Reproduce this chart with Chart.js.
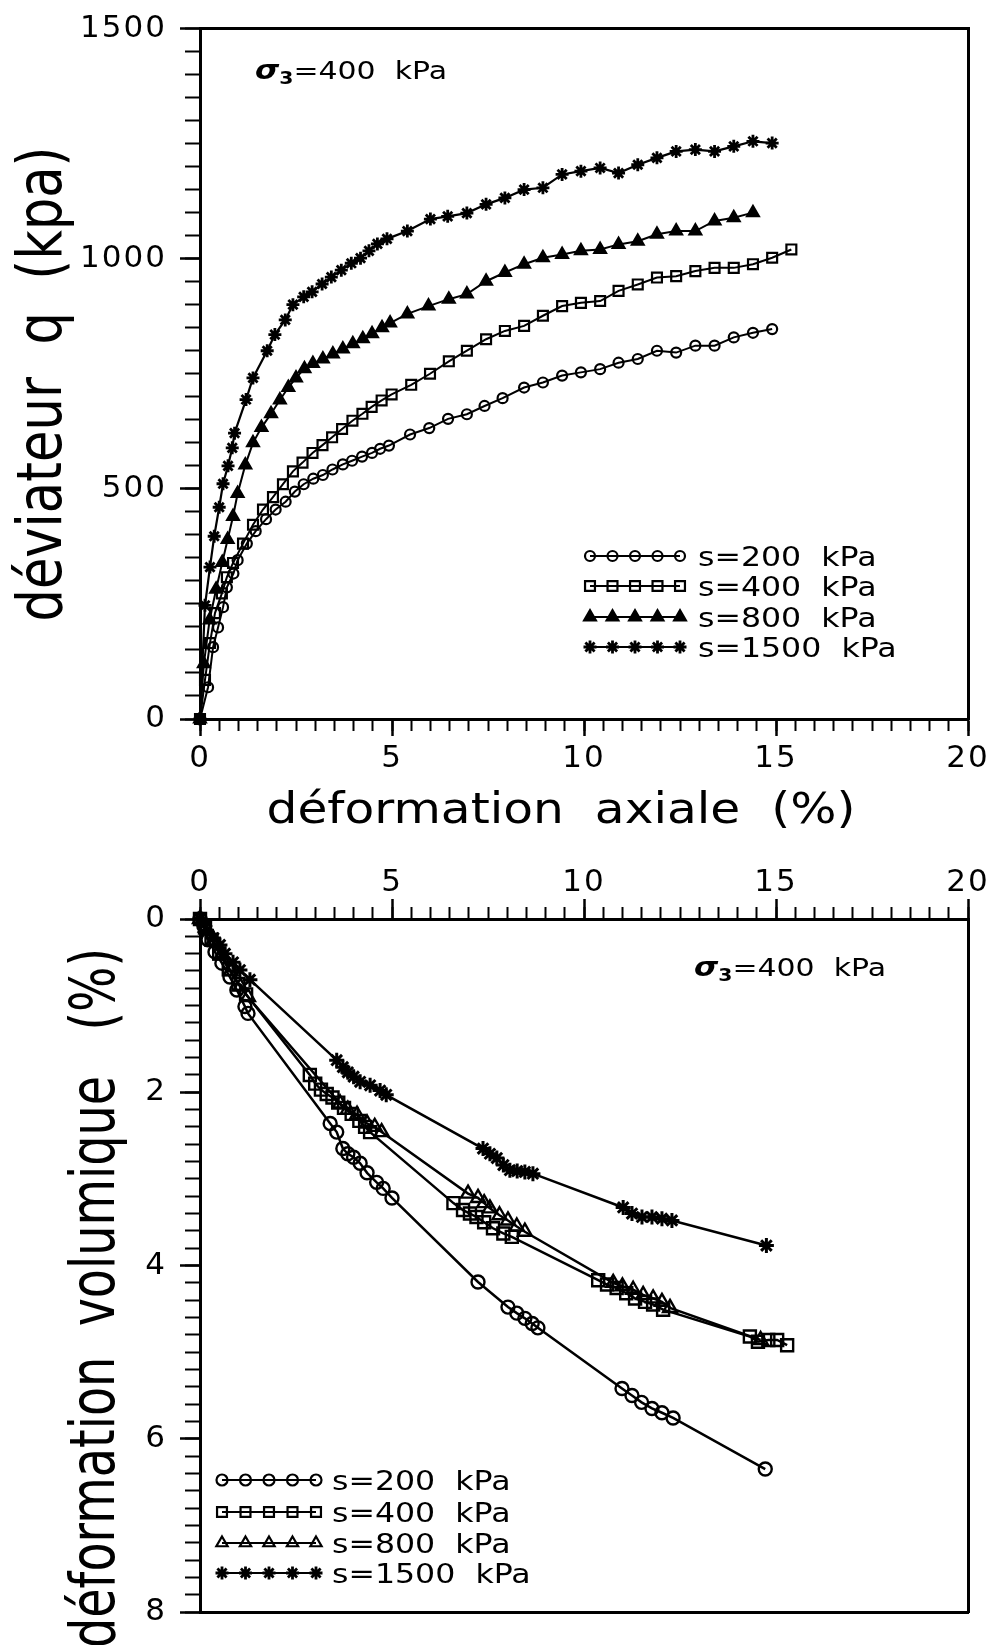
<!DOCTYPE html>
<html><head><meta charset="utf-8">
<script src="https://cdn.jsdelivr.net/npm/chart.js@4/dist/chart.umd.min.js"></script>
<style>
html,body{margin:0;padding:0;background:#fff;}
body{width:998px;height:1645px;position:relative;overflow:hidden;}
canvas{position:absolute;left:0;}
#c1{top:0;} #c2{top:840px;}
</style></head><body>
<canvas id="c1" width="998" height="840"></canvas>
<canvas id="c2" width="998" height="805"></canvas>
<script>
const FONT = "'DejaVu Sans', sans-serif";

// ---- Series labels ----
const seriesLabels = ['s=200  kPa', 's=400  kPa', 's=800  kPa', 's=1500  kPa'];

// ---- Top chart: déviateur q (kPa) vs déformation axiale (%) ----
const q200_x = [0,0.21,0.34,0.47,0.6,0.7,0.87,0.98,1.22,1.45,1.72,1.97,2.23,2.47,2.7,2.95,3.2,3.45,3.72,3.96,4.22,4.48,4.69,4.92,5.47,5.97,6.46,6.95,7.41,7.88,8.44,8.93,9.43,9.92,10.42,10.9,11.4,11.9,12.4,12.9,13.4,13.9,14.4,14.9];
const q200_y = [0,69,156,199,243,286,316,345,381,408,434,455,472,494,510,522,530,542,553,561,570,578,587,594,618,632,652,662,680,697,720,731,746,753,760,774,782,800,796,811,811,829,839,847];

const q400_x = [0,0.13,0.26,0.39,0.57,0.7,0.86,1.12,1.38,1.64,1.9,2.16,2.42,2.67,2.93,3.19,3.44,3.7,3.97,4.23,4.47,4.73,4.99,5.5,5.99,6.48,6.95,7.45,7.94,8.44,8.93,9.43,9.92,10.42,10.9,11.4,11.9,12.4,12.9,13.4,13.9,14.4,14.9,15.4];
const q400_y = [0,85,165,230,273,308,339,381,422,455,482,510,538,557,578,595,612,630,648,663,678,692,705,726,750,777,800,825,843,854,876,897,904,908,930,944,959,962,973,980,980,988,1002,1020];

const q800_x = [0,0.1,0.25,0.42,0.58,0.72,0.86,0.98,1.18,1.38,1.6,1.85,2.08,2.3,2.5,2.72,2.94,3.2,3.46,3.72,3.98,4.24,4.48,4.74,4.95,5.4,5.95,6.48,6.95,7.45,7.94,8.44,8.93,9.43,9.92,10.42,10.9,11.4,11.9,12.4,12.9,13.4,13.9,14.4];
const q800_y = [0,120,215,282,340,390,440,490,552,600,633,663,693,720,741,761,772,782,793,804,815,826,837,850,860,880,897,912,923,951,970,988,1002,1009,1017,1020,1031,1038,1053,1060,1060,1082,1089,1100];

const q1500_x = [0,0.13,0.26,0.37,0.5,0.6,0.73,0.84,0.9,1.2,1.38,1.75,1.95,2.22,2.42,2.7,2.92,3.18,3.42,3.68,3.94,4.18,4.4,4.62,4.87,5.4,6.0,6.45,6.95,7.45,7.94,8.44,8.93,9.43,9.92,10.42,10.9,11.4,11.9,12.4,12.9,13.4,13.9,14.4,14.9];
const q1500_y = [0,247,330,397,460,511,550,589,621,694,741,800,835,867,900,917,928,945,960,975,990,1001,1017,1032,1043,1060,1086,1092,1099,1118,1132,1150,1154,1183,1190,1197,1186,1204,1219,1233,1237,1233,1244,1255,1251];

// ---- Bottom chart: déformation volumique (%) vs déformation axiale (%) ----
const vol200_x = [0,0.1,0.21,0.39,0.57,0.78,0.96,1.17,1.25,3.39,3.56,3.72,3.85,4.0,4.17,4.35,4.6,4.77,5.0,7.24,8.02,8.25,8.46,8.65,8.8,10.99,11.25,11.5,11.77,12.03,12.32,14.72];
const vol200_y = [0,0.08,0.24,0.38,0.51,0.67,0.82,1.01,1.09,2.36,2.46,2.65,2.71,2.75,2.82,2.93,3.04,3.11,3.22,4.19,4.48,4.55,4.61,4.67,4.72,5.42,5.5,5.58,5.65,5.7,5.76,6.35];

const vol400_x = [0,0.13,0.3,0.5,0.75,1.0,1.2,2.86,3.0,3.15,3.3,3.45,3.6,3.75,3.95,4.15,4.3,4.43,6.6,6.85,7.03,7.2,7.4,7.63,7.9,8.12,10.37,10.6,10.85,11.1,11.33,11.59,11.8,12.06,14.32,14.53,14.8,15.03,15.29];
const vol400_y = [0,0.1,0.24,0.4,0.58,0.75,0.87,1.8,1.9,1.97,2.02,2.06,2.12,2.18,2.25,2.33,2.4,2.46,3.28,3.36,3.4,3.44,3.5,3.57,3.63,3.67,4.17,4.22,4.26,4.32,4.38,4.42,4.45,4.51,4.82,4.88,4.86,4.86,4.92];

const vol800_x = [0,0.15,0.35,0.55,0.8,1.05,1.25,3.65,3.85,4.09,4.35,4.55,4.73,6.98,7.24,7.4,7.55,7.8,8.02,8.25,8.46,10.76,11.0,11.28,11.54,11.8,12.03,12.24,14.6];
const vol800_y = [0,0.1,0.25,0.42,0.6,0.78,0.9,2.13,2.2,2.26,2.36,2.4,2.46,3.17,3.22,3.28,3.34,3.42,3.48,3.55,3.61,4.2,4.24,4.28,4.34,4.38,4.42,4.49,4.86];

const vol1500_x = [0,0.17,0.35,0.52,0.65,0.86,1.04,1.3,3.56,3.72,3.85,4.0,4.17,4.43,4.69,4.85,7.37,7.55,7.73,7.9,8.07,8.26,8.46,8.67,11.02,11.25,11.51,11.77,12.03,12.29,14.75];
const vol1500_y = [0,0.13,0.22,0.3,0.4,0.5,0.59,0.7,1.63,1.71,1.77,1.82,1.88,1.92,1.98,2.03,2.65,2.71,2.76,2.84,2.9,2.91,2.92,2.94,3.33,3.4,3.44,3.44,3.46,3.48,3.77];

// ---- Axis ranges / tick steps ----
const axialRange = [0, 20], axialMajor = 5, axialMinor = 0.5;
const qRange = [0, 1500], qMajor = 500, qMinor = 50;
const volRange = [0, 8], volMajor = 2, volMinor = 0.2;

// ---- Texts ----
const topYTitle = 'déviateur  q  (kpa)';
const topXTitle = 'déformation  axiale  (%)';
const botYTitle = 'déformation  volumique   (%)';

const BLACK = '#000';

function ds(label, xs, ys, style, radius, filled, lw, pbw) {
  return {
    label, data: xs.map((x, i) => ({x, y: ys[i]})),
    showLine: true, borderColor: BLACK, borderWidth: lw, tension: 0,
    pointStyle: style, pointRadius: radius, pointHoverRadius: radius,
    pointBorderColor: BLACK, pointBorderWidth: pbw,
    pointBackgroundColor: filled ? BLACK : 'rgba(0,0,0,0)',
    xAxisID: 'x', yAxisID: 'y', clip: false
  };
}

function drawText(ctx, text, x, y, o) {
  ctx.save();
  ctx.letterSpacing = '0px';
  ctx.font = o.font;
  ctx.fillStyle = BLACK;
  ctx.textAlign = o.align || 'left';
  ctx.textBaseline = o.baseline || 'alphabetic';
  const w = ctx.measureText(text).width;
  const sx = o.width ? o.width / w : (o.sx || 1);
  ctx.translate(x, y);
  if (o.rotate) ctx.rotate(o.rotate);
  ctx.scale(sx, 1);
  ctx.fillText(text, 0, 0);
  ctx.restore();
}

function drawSigma(ctx, x, baseY, targetW) {
  const runs = [
    {t: 'σ', font: `italic bold 26px ${FONT}`, dy: 0},
    {t: '3', font: `bold 17px ${FONT}`, dy: 5},
    {t: '=400  kPa', font: `25px ${FONT}`, dy: 0}
  ];
  ctx.save();
  ctx.letterSpacing = '0px';
  let total = 0;
  runs.forEach(r => { ctx.font = r.font; r.w = ctx.measureText(r.t).width; total += r.w; });
  ctx.translate(x, baseY);
  ctx.scale(targetW / total, 1);
  ctx.fillStyle = BLACK; ctx.textAlign = 'left'; ctx.textBaseline = 'alphabetic';
  let cx = 0;
  runs.forEach(r => { ctx.font = r.font; ctx.fillText(r.t, cx, r.dy); cx += r.w; });
  ctx.restore();
}

function drawMarker(ctx, style, radius, bw, x, y) {
  if (Chart.helpers && Chart.helpers.drawPoint) {
    ctx.lineWidth = bw;
    Chart.helpers.drawPoint(ctx, {pointStyle: style, radius, borderWidth: bw, rotation: 0}, x, y);
  }
}

function drawLegend(ctx, rows, x1, x2, tx, ys, font, sx) {
  rows.forEach((r, i) => {
    const y = ys[i];
    ctx.save();
    ctx.letterSpacing = '0px';
    ctx.strokeStyle = BLACK; ctx.lineWidth = 2;
    ctx.beginPath(); ctx.moveTo(x1, y); ctx.lineTo(x2, y); ctx.stroke();
    ctx.fillStyle = r.filled ? BLACK : 'rgba(0,0,0,0)';
    for (let k = 0; k < 5; k++) {
      drawMarker(ctx, r.style, r.radius, r.bw, x1 + (x2 - x1) * k / 4, y);
    }
    ctx.restore();
    drawText(ctx, r.label, tx, y + 10, {font, sx});
  });
}

const tickFont = {family: FONT, size: 31, lineHeight: 1};
const numFmt = v => String(Math.round(v * 1000) / 1000);

function majorAxis(axis, position, range, step, tickLen, pad, size, extra) {
  return Object.assign({
    type: 'linear', axis, position, weight: 1, min: range[0], max: range[1],
    ticks: {stepSize: step, autoSkip: false, maxRotation: 0, color: BLACK, font: tickFont, padding: pad, callback: numFmt},
    grid: {drawOnChartArea: false, drawTicks: true, tickLength: tickLen, tickWidth: 2.5, tickColor: BLACK, color: BLACK},
    border: {display: true, color: BLACK, width: 3},
    afterFit(s) { if (axis === 'x') s.height = size; else s.width = size; }
  }, extra || {});
}
function minorAxis(axis, position, range, step, tickLen, extra) {
  return Object.assign({
    type: 'linear', axis, position, weight: 0, min: range[0], max: range[1],
    ticks: {stepSize: step, display: false, autoSkip: false},
    grid: {drawOnChartArea: false, drawTicks: true, tickLength: tickLen, tickWidth: 2, tickColor: BLACK, color: BLACK},
    border: {display: false},
    afterFit(s) { if (axis === 'x') s.height = 0; else s.width = 0; }
  }, extra || {});
}
function frameAxis(axis, position, range, extra) {
  return Object.assign({
    type: 'linear', axis, position, weight: 0, min: range[0], max: range[1],
    ticks: {display: false},
    grid: {display: false, drawTicks: false},
    border: {display: true, color: BLACK, width: 3},
    afterFit(s) { if (axis === 'x') s.height = 0; else s.width = 0; }
  }, extra || {});
}

// ---- Top chart ----
const topPlugin = {
  id: 'topText',
  beforeDraw(chart) { chart.ctx.letterSpacing = '2px'; },
  afterDraw(chart) {
    const ctx = chart.ctx;
    ctx.letterSpacing = '0px';
    drawText(ctx, topYTitle, 61, 384, {font: `62px ${FONT}`, align: 'center', rotate: -Math.PI / 2, width: 475});
    drawText(ctx, topXTitle, 561, 823, {font: `43px ${FONT}`, align: 'center', width: 589});
    drawSigma(ctx, 255, 79, 192);
    drawLegend(ctx, [
      {label: seriesLabels[0], style: 'circle', radius: 5, bw: 2.2, filled: false},
      {label: seriesLabels[1], style: 'rect', radius: 7, bw: 2.2, filled: false},
      {label: seriesLabels[2], style: 'triangle', radius: 7, bw: 2, filled: true},
      {label: seriesLabels[3], style: 'star', radius: 6.5, bw: 2.8, filled: false}
    ], 590, 680, 698, [556, 586, 617, 647], `27px ${FONT}`, 1.17);
  }
};

new Chart(document.getElementById('c1'), {
  type: 'scatter',
  data: {datasets: [
    ds(seriesLabels[0], q200_x, q200_y, 'circle', 5, false, 2, 2.2),
    ds(seriesLabels[1], q400_x, q400_y, 'rect', 7, false, 2, 2.2),
    ds(seriesLabels[2], q800_x, q800_y, 'triangle', 7, true, 2, 2),
    ds(seriesLabels[3], q1500_x, q1500_y, 'star', 6.5, false, 2.2, 2.8)
  ]},
  options: {
    responsive: false, animation: false, devicePixelRatio: 1, events: [],
    layout: {padding: {top: 27, right: 30, bottom: 0, left: 0}},
    plugins: {legend: {display: false}, tooltip: {enabled: false}},
    scales: {
      x: majorAxis('x', 'bottom', axialRange, axialMajor, 17, 7, 121),
      xm: minorAxis('x', 'bottom', axialRange, axialMinor, 12),
      xt: frameAxis('x', 'top', axialRange),
      y: majorAxis('y', 'left', qRange, qMajor, 20, 13, 200),
      ym: minorAxis('y', 'left', qRange, qMinor, 15),
      yr: frameAxis('y', 'right', qRange)
    }
  },
  plugins: [topPlugin]
});

// ---- Bottom chart ----
const botPlugin = {
  id: 'botText',
  beforeDraw(chart) { chart.ctx.letterSpacing = '2px'; },
  afterDraw(chart) {
    const ctx = chart.ctx;
    ctx.letterSpacing = '0px';
    drawText(ctx, botYTitle, 114, 458, {font: `62px ${FONT}`, align: 'center', rotate: -Math.PI / 2, width: 700});
    drawSigma(ctx, 694, 136, 192);
    drawLegend(ctx, [
      {label: seriesLabels[0], style: 'circle', radius: 5.5, bw: 2.2, filled: false},
      {label: seriesLabels[1], style: 'rect', radius: 7, bw: 2.2, filled: false},
      {label: seriesLabels[2], style: 'triangle', radius: 6.5, bw: 2.2, filled: false},
      {label: seriesLabels[3], style: 'star', radius: 6.5, bw: 2.8, filled: false}
    ], 222, 316, 332, [640, 672, 703, 733], `27px ${FONT}`, 1.17);
  }
};

new Chart(document.getElementById('c2'), {
  type: 'scatter',
  data: {datasets: [
    ds(seriesLabels[0], vol200_x, vol200_y, 'circle', 6.5, false, 2.5, 2.4),
    ds(seriesLabels[1], vol400_x, vol400_y, 'rect', 8.5, false, 2.5, 2.4),
    ds(seriesLabels[2], vol800_x, vol800_y, 'triangle', 8, false, 2.5, 2.4),
    ds(seriesLabels[3], vol1500_x, vol1500_y, 'star', 7.5, false, 2.5, 3)
  ]},
  options: {
    responsive: false, animation: false, devicePixelRatio: 1, events: [],
    layout: {padding: {top: 0, right: 30, bottom: 33, left: 0}},
    plugins: {legend: {display: false}, tooltip: {enabled: false}},
    scales: {
      x: majorAxis('x', 'top', axialRange, axialMajor, 20, 1, 79),
      xm: minorAxis('x', 'top', axialRange, axialMinor, 12),
      xb: frameAxis('x', 'bottom', axialRange),
      y: majorAxis('y', 'left', volRange, volMajor, 20, 13, 200, {reverse: true}),
      ym: minorAxis('y', 'left', volRange, volMinor, 15, {reverse: true}),
      yr: frameAxis('y', 'right', volRange, {reverse: true})
    }
  },
  plugins: [botPlugin]
});
</script>
</body></html>
